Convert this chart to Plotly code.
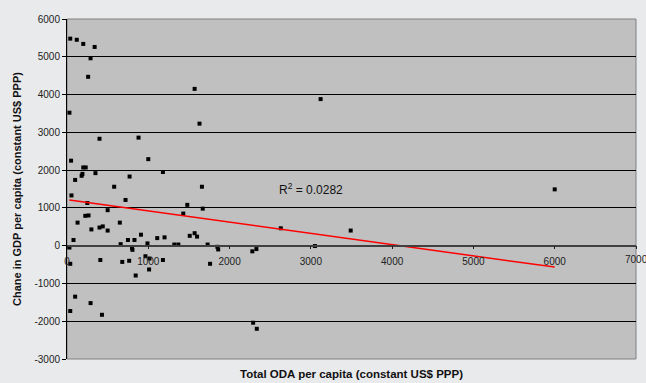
import plotly.graph_objects as go

# Total ODA per capita (constant US$ PPP)
oda = [40, 120, 200, 340, 290, 260, 30, 400, 880, 1570, 1630, 3120, 6000,
       1000, 50, 200, 230, 190, 180, 350, 100, 770, 580, 1180, 1660, 55,
       720, 250, 500, 1670, 1480, 1430, 225, 265, 130, 650, 300, 400, 440,
       500, 80, 910, 750, 830, 1110, 1200, 1510, 1570, 1600, 660, 1320,
       1370, 990, 1730, 30, 800, 805, 1850, 1860, 2280, 2330, 3050, 3490,
       2630, 40, 410, 680, 765, 965, 1015, 1010, 1180, 1760, 845, 40, 100,
       290, 430, 2290, 2335]
# Change in GDP per capita (constant US$ PPP)
gdp_change = [5480, 5450, 5340, 5260, 4960, 4470, 3520, 2830, 2860, 4150, 3230,
              3880, 1490, 2290, 2250, 2070, 2070, 1900, 1850, 1920, 1740, 1830,
              1560, 1950, 1560, 1330, 1210, 1130, 940, 980, 1080, 850, 790, 800,
              610, 610, 430, 480, 510, 400, 150, 290, 150, 150, 200, 220, 260,
              330, 240, 40, 30, 30, 60, 30, -50, -60, -110, -30, -100, -150, -90,
              -10, 400, 460, -480, -380, -430, -400, -280, -340, -630, -380, -480,
              -790, -1730, -1350, -1520, -1830, -2040, -2200]

# Linear trendline as shown in the chart
trend_intercept = 1215
trend_slope = -0.297
r_squared_label = "R<sup>2</sup> = 0.0282"

x_ticks = [0, 1000, 2000, 3000, 4000, 5000, 6000, 7000]
y_ticks = [-3000, -2000, -1000, 0, 1000, 2000, 3000, 4000, 5000, 6000]

x_title = "Total ODA per capita (constant US$ PPP)"
y_title = "Chane in GDP per capita (constant US$ PPP)"

fig = go.Figure()

fig.add_trace(go.Scatter(
    x=oda, y=gdp_change, mode="markers",
    marker=dict(symbol="square", size=4, color="black", line=dict(width=0)),
    showlegend=False, hoverinfo="x+y"))

tx = [min(oda), max(oda)]
ty = [trend_intercept + trend_slope * v for v in tx]
fig.add_trace(go.Scatter(
    x=tx, y=ty, mode="lines",
    line=dict(color="#ff0000", width=1.5),
    showlegend=False, hoverinfo="skip"))

font_family = "Liberation Sans, Arial, sans-serif"
tick_color = "#222222"

# The last x tick label sits at the figure edge; plotly drops it, so draw it as text
edge_tick = x_ticks[-1]

fig.update_layout(
    width=646, height=383,
    margin=dict(l=67, r=10, t=19, b=24),
    paper_bgcolor="#e9eaec",
    plot_bgcolor="#c0c0c0",
    font=dict(family=font_family, size=10, color="#1a1a1a"),
    xaxis=dict(
        range=[0, 7000], tickvals=x_ticks, ticktext=[str(v) for v in x_ticks],
        showgrid=False, zeroline=False,
        anchor="free", position=1/3,
        showline=True, linecolor="#404040", linewidth=1.5,
        ticks="outside", ticklen=3, tickcolor="#202020",
        ticklabelstandoff=4,
        tickfont=dict(size=10, color=tick_color),
    ),
    yaxis=dict(
        range=[-3000, 6000], tickvals=y_ticks, ticktext=[str(v) for v in y_ticks],
        showgrid=True, gridcolor="#000000", gridwidth=1,
        zeroline=False,
        showline=True, linecolor="#000000", linewidth=1,
        ticks="outside", ticklen=4, tickcolor="#000000",
        tickfont=dict(size=10, color=tick_color),
        title=dict(text=f"<b>{y_title}</b>", font=dict(size=11, color="#111111"),
                   standoff=10),
    ),
    shapes=[dict(type="rect", xref="paper", yref="paper", x0=0, x1=1, y0=0, y1=1,
                 line=dict(color="#808080", width=1), fillcolor="rgba(0,0,0,0)",
                 layer="below")],
    annotations=[
        dict(text=f"<b>{x_title}</b>", xref="paper", yref="paper", x=0.5, y=-0.02,
             xanchor="center", yanchor="top", showarrow=False,
             font=dict(size=11.5, color="#111111")),
        dict(text=r_squared_label, xref="x", yref="y", x=2580, y=1510,
             xanchor="left", yanchor="middle", showarrow=False,
             font=dict(size=12, color="#111111")),
        dict(text=str(edge_tick), xref="x", yref="y", x=edge_tick, y=0,
             xanchor="center", yanchor="top", yshift=-6, showarrow=False,
             font=dict(size=10, color=tick_color)),
    ],
)

fig.write_html("out.html",
               config={"displayModeBar": False},
               post_script="document.body.style.margin='0px';document.body.style.overflow='hidden';")
